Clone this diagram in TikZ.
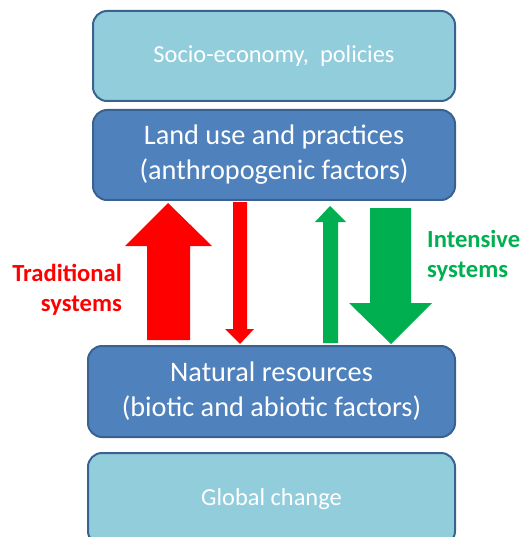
\documentclass[tikz,border=0pt]{standalone}
\usepackage{fontspec}
\setmainfont{Carlito}
\definecolor{lightbox}{HTML}{92CDDC}
\definecolor{darkbox}{HTML}{4F81BD}
\definecolor{boxline}{HTML}{3A6291}
\definecolor{arrred}{HTML}{FF0000}
\definecolor{arrgreen}{HTML}{00B050}
\tikzset{
  panel/.style={draw=boxline, line width=2pt, rounded corners=14pt, text=white, align=center, inner sep=0pt},
  lightpanel/.style={panel, fill=lightbox},
  darkpanel/.style={panel, fill=darkbox},
  label/.style={font=\bfseries\fontsize{24.6}{30}\selectfont, inner sep=0pt}
}
\begin{document}
\begin{tikzpicture}[x=1pt,y=-1pt]
\useasboundingbox (0,0) rectangle (527,537);
\clip (0,0) rectangle (527,537);
\node[lightpanel, minimum width=362pt, minimum height=90pt, font=\fontsize{24.4}{29}\selectfont] (socio) at (274,56) {Socio-economy,\ \ policies};
\node[darkpanel, minimum width=362pt, minimum height=90pt, font=\fontsize{28.3}{35}\selectfont] (land) at (274,155) {Land use and practices\\(anthropogenic factors)};
\node[darkpanel, minimum width=367pt, minimum height=91pt, font=\fontsize{28.3}{35}\selectfont] (natural) at (271.5,391.5) {Natural resources\\(biotic and abiotic factors)};
\node[lightpanel, minimum width=367pt, minimum height=92pt, font=\fontsize{24.4}{29}\selectfont] (global) at (271.5,499) {Global change};
% block arrows
\fill[arrred] (147,340) -- (147,246) -- (125,246) -- (168,203) -- (212,246) -- (190,246) -- (190,340) -- cycle;
\fill[arrred] (233,202) -- (247,202) -- (247,329) -- (254,329) -- (240,344) -- (225,329) -- (233,329) -- cycle;
\fill[arrgreen] (323,343) -- (323,222) -- (315,222) -- (330,206) -- (346,222) -- (338,222) -- (338,343) -- cycle;
\fill[arrgreen] (370,208) -- (411,208) -- (411,303) -- (432,303) -- (391,344) -- (349,303) -- (370,303) -- cycle;
\node[label, text=arrred, align=right, anchor=east] (trad) at (122,290) {Traditional\\systems};
\node[label, text=arrgreen, align=left, anchor=west] (inten) at (427,256) {Intensive\\systems};
\end{tikzpicture}
\end{document}
